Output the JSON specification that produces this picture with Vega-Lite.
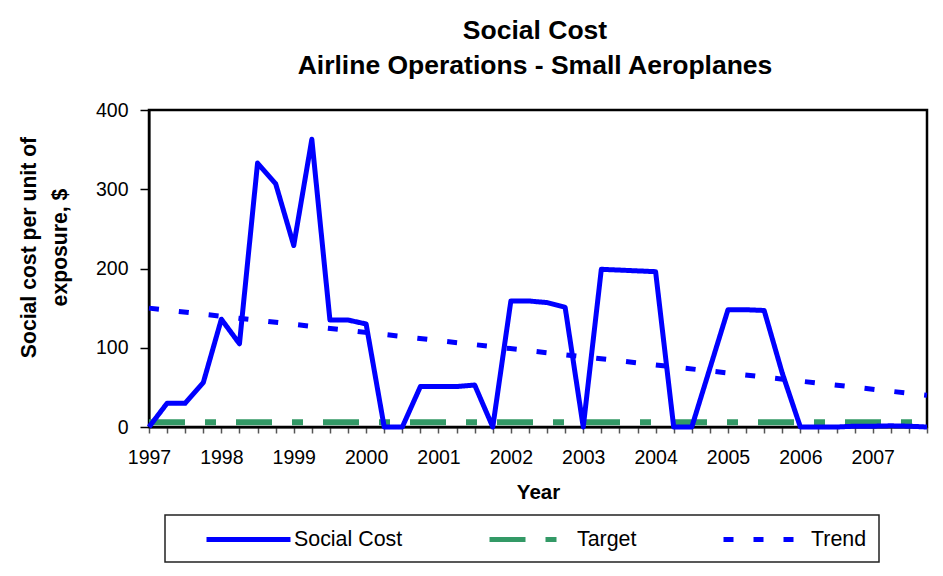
{
  "$schema": "https://vega.github.io/schema/vega-lite/v6.json",
  "width": 778,
  "height": 317,
  "autosize": {"type": "none"},
  "padding": {"left": 149, "top": 110, "right": 16, "bottom": 149},
  "background": "white",
  "title": {
    "text": ["Social Cost", "Airline Operations - Small Aeroplanes"],
    "fontSize": 26.5,
    "fontWeight": "bold",
    "lineHeight": 35,
    "offset": 21,
    "anchor": "middle",
    "dx": -3,
    "color": "black",
    "font": "Liberation Sans"
  },
  "datasets": {
    "rows": [
      {"t": 1997.00, "series": "Social Cost", "cost": 0},
      {"t": 1997.25, "series": "Social Cost", "cost": 30},
      {"t": 1997.50, "series": "Social Cost", "cost": 30},
      {"t": 1997.75, "series": "Social Cost", "cost": 56},
      {"t": 1998.00, "series": "Social Cost", "cost": 136},
      {"t": 1998.25, "series": "Social Cost", "cost": 105},
      {"t": 1998.50, "series": "Social Cost", "cost": 333},
      {"t": 1998.75, "series": "Social Cost", "cost": 307},
      {"t": 1999.00, "series": "Social Cost", "cost": 229},
      {"t": 1999.25, "series": "Social Cost", "cost": 363},
      {"t": 1999.50, "series": "Social Cost", "cost": 135},
      {"t": 1999.75, "series": "Social Cost", "cost": 135},
      {"t": 2000.00, "series": "Social Cost", "cost": 130},
      {"t": 2000.25, "series": "Social Cost", "cost": 0},
      {"t": 2000.50, "series": "Social Cost", "cost": 0},
      {"t": 2000.75, "series": "Social Cost", "cost": 51},
      {"t": 2001.00, "series": "Social Cost", "cost": 51},
      {"t": 2001.25, "series": "Social Cost", "cost": 51},
      {"t": 2001.50, "series": "Social Cost", "cost": 53},
      {"t": 2001.75, "series": "Social Cost", "cost": 0},
      {"t": 2002.00, "series": "Social Cost", "cost": 159},
      {"t": 2002.25, "series": "Social Cost", "cost": 159},
      {"t": 2002.50, "series": "Social Cost", "cost": 157},
      {"t": 2002.75, "series": "Social Cost", "cost": 151},
      {"t": 2003.00, "series": "Social Cost", "cost": 0},
      {"t": 2003.25, "series": "Social Cost", "cost": 199},
      {"t": 2003.50, "series": "Social Cost", "cost": 198},
      {"t": 2003.75, "series": "Social Cost", "cost": 197},
      {"t": 2004.00, "series": "Social Cost", "cost": 196},
      {"t": 2004.25, "series": "Social Cost", "cost": 0},
      {"t": 2004.50, "series": "Social Cost", "cost": 0},
      {"t": 2004.75, "series": "Social Cost", "cost": 74},
      {"t": 2005.00, "series": "Social Cost", "cost": 148},
      {"t": 2005.25, "series": "Social Cost", "cost": 148},
      {"t": 2005.50, "series": "Social Cost", "cost": 147},
      {"t": 2005.75, "series": "Social Cost", "cost": 68},
      {"t": 2006.00, "series": "Social Cost", "cost": 0},
      {"t": 2006.25, "series": "Social Cost", "cost": 0},
      {"t": 2006.50, "series": "Social Cost", "cost": 0},
      {"t": 2006.75, "series": "Social Cost", "cost": 1},
      {"t": 2007.00, "series": "Social Cost", "cost": 1},
      {"t": 2007.25, "series": "Social Cost", "cost": 1.5},
      {"t": 2007.50, "series": "Social Cost", "cost": 1},
      {"t": 2007.75, "series": "Social Cost", "cost": 0},
      {"t": 1997.00, "series": "Target", "cost": 6},
      {"t": 2007.75, "series": "Target", "cost": 6},
      {"t": 1997.00, "series": "Trend", "cost": 150},
      {"t": 2007.75, "series": "Trend", "cost": 40}
    ]
  },
  "data": {"name": "rows"},
  "encoding": {
    "x": {
      "field": "t",
      "type": "quantitative",
      "scale": {"domain": [1997, 2007.75], "nice": false, "zero": false},
      "axis": {
        "title": "Year",
        "values": [1997, 1997.25, 1997.5, 1997.75, 1998, 1998.25, 1998.5, 1998.75, 1999, 1999.25, 1999.5, 1999.75, 2000, 2000.25, 2000.5, 2000.75, 2001, 2001.25, 2001.5, 2001.75, 2002, 2002.25, 2002.5, 2002.75, 2003, 2003.25, 2003.5, 2003.75, 2004, 2004.25, 2004.5, 2004.75, 2005, 2005.25, 2005.5, 2005.75, 2006, 2006.25, 2006.5, 2006.75, 2007, 2007.25, 2007.5, 2007.75],
        "labelExpr": "datum.value % 1 === 0 ? format(datum.value, 'd') : ''",
        "labelOverlap": false,
        "labelFlush": false,
        "tickSize": 6,
        "tickColor": "#555555",
        "tickWidth": 1.5,
        "labelFontSize": 19.5,
        "labelPadding": 15,
        "titleFontSize": 20.5,
        "titlePadding": 16
      }
    },
    "y": {
      "field": "cost",
      "type": "quantitative",
      "scale": {"domain": [0, 400], "nice": false},
      "axis": {
        "title": ["Social cost per unit of", "exposure, $"],
        "values": [0, 100, 200, 300, 400],
        "tickSize": 9,
        "tickColor": "black",
        "tickWidth": 1.5,
        "labelFontSize": 19.5,
        "labelPadding": 12,
        "titleFontSize": 21.2,
        "titleLineHeight": 31,
        "titleX": -120,
        "titleY": 137,
        "titleBaseline": "middle"
      }
    },
    "color": {
      "field": "series",
      "type": "nominal",
      "scale": {"domain": ["Social Cost", "Target", "Trend"], "range": ["#0000ff", "#339966", "#0000ff"]},
      "legend": {"title": null}
    },
    "strokeDash": {
      "field": "series",
      "type": "nominal",
      "scale": {"domain": ["Social Cost", "Target", "Trend"], "range": [[1, 0], [36, 20, 11, 20], [10, 20]]},
      "legend": {"title": null}
    }
  },
  "layer": [
    {
      "transform": [{"filter": "datum.series === 'Target'"}],
      "mark": {"type": "line", "strokeWidth": 6, "strokeCap": "butt"}
    },
    {
      "transform": [{"filter": "datum.series === 'Trend'"}],
      "mark": {"type": "line", "strokeWidth": 5, "strokeCap": "butt"}
    },
    {
      "transform": [{"filter": "datum.series === 'Social Cost'"}],
      "mark": {"type": "line", "strokeWidth": 5, "strokeJoin": "round", "strokeCap": "butt"}
    }
  ],
  "config": {
    "font": "Liberation Sans",
    "view": {"stroke": "black", "strokeWidth": 2.5},
    "axis": {
      "grid": false,
      "domainColor": "black",
      "domainWidth": 2,
      "labelColor": "black",
      "titleColor": "black",
      "labelFont": "Liberation Sans",
      "titleFont": "Liberation Sans",
      "titleFontWeight": "bold"
    },
    "legend": {
      "orient": "none",
      "legendX": 16,
      "legendY": 405,
      "direction": "horizontal",
      "columns": 3,
      "symbolType": "M-4.2,0H4.2",
      "symbolSize": 400,
      "symbolStrokeWidth": 5,
      "symbolOffset": 59,
      "labelOffset": 33,
      "labelFont": "Liberation Sans",
      "labelFontSize": 21.4,
      "labelColor": "black",
      "columnPadding": 57,
      "padding": 12,
      "strokeColor": "#222222",
      "strokeWidth": 1.5,
      "fillColor": "white"
    }
  }
}
